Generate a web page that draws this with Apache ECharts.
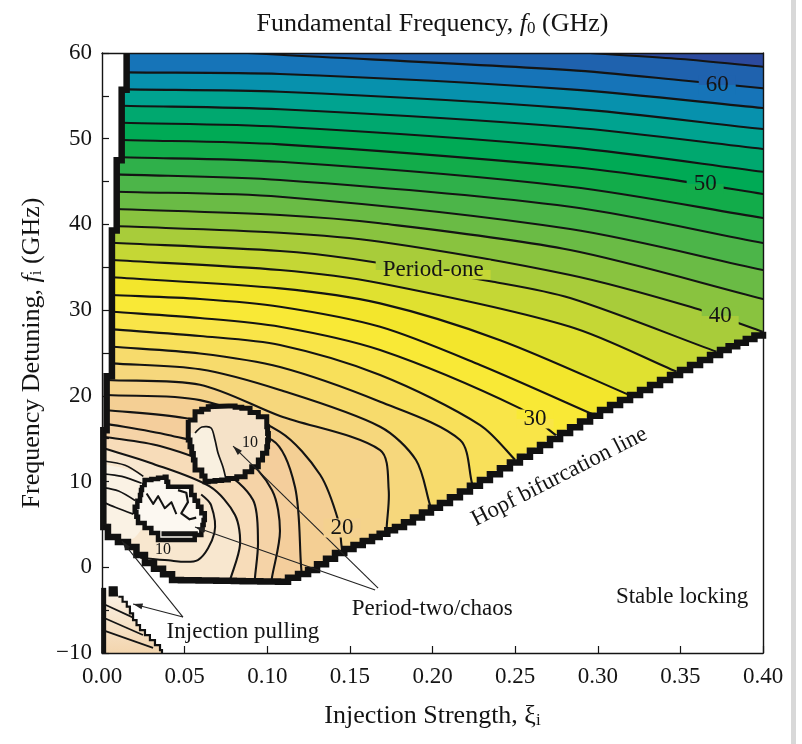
<!DOCTYPE html>
<html><head><meta charset="utf-8">
<script src="https://cdn.jsdelivr.net/npm/echarts@6/dist/echarts.min.js"></script>
<style>html,body{margin:0;padding:0;background:#fff}#c{width:802px;height:744px}</style>
</head><body><div id="c"></div>
<script>
// ---------- data ----------
const levels = [12,14,16,18,20,22,24,26,28,30,32,34,36,38,40,42,44,46,48,50,52,54,56,58,60,62];
const bandColors = ['#f7dcb9','#f5d3a7','#f4ce9c','#f4cf94','#f5d38a','#f6d77c','#f7db6c','#f8e05a','#f9e548','#f9e936','#f3e62c','#e0e130','#c5d735','#a8cc3a','#89c33f','#6abb45','#4cb549','#2fb04a','#12ac4a','#00aa55','#00a86f','#00a390','#0791ad','#1674b8','#1f62ae','#2c4a9e'];
const baseColor = '#f8e7cf';

// contour lines of f0 (GHz): [xi, fi] points
const c12 = [[0.001,13.88],[0.029,12.2],[0.0654,9.4],[0.0805,6.1],[0.0835,2.6],[0.0775,-1.49]];
const c14 = [[0.001,15.23],[0.035,14.14],[0.0714,11.46],[0.0914,7.84],[0.0944,2.94],[0.0926,-1.14]];
const c16 = [[0.001,16.79],[0.04,15.43],[0.0835,13.1],[0.1029,9.0],[0.1077,4.22],[0.1029,-1.14]];
const c18 = [[0.002,18.35],[0.05,17.41],[0.103,14.84],[0.1168,9.36],[0.1205,0.03]];
const c20 = [[0.003,20.1],[0.0593,19.5],[0.1077,15.8],[0.132,10.8],[0.1429,5.51],[0.145,2.4]];
const c22 = [[0.003,21.85],[0.0593,21.3],[0.1077,17.65],[0.1683,13.68],[0.1735,9.0],[0.1723,4.73]];
const c24 = [[0.006,23.79],[0.0593,23.1],[0.1077,20.68],[0.1683,16.4],[0.19,12.51],[0.1985,7.26]];
const c26 = [[0.006,25.73],[0.0593,24.95],[0.1077,23.36],[0.1683,19.31],[0.2167,14.84],[0.224,9.71]];
const c28 = [[0.006,27.76],[0.0593,26.98],[0.1077,25.93],[0.1683,22.43],[0.2288,16.59],[0.2518,12.16]];
const c30 = [[0.006,29.81],[0.0593,29.08],[0.1077,28.06],[0.1683,25.34],[0.253,18.54],[0.273,15.66]];
const c32 = [[0.006,31.76],[0.0593,31.3],[0.1077,30.4],[0.1683,28.06],[0.2288,23.6],[0.3021,17.41]];
const c34 = [[0.006,33.83],[0.1077,32.54],[0.1683,30.79],[0.2409,26.5],[0.3232,19.75]];
const c36 = [[0.006,35.85],[0.1077,34.68],[0.1683,33.13],[0.2833,28.06],[0.3481,22.78]];
const c38 = [[0.006,37.86],[0.1077,36.9],[0.152,35.96],[0.2367,33.31],[0.2833,31.41],[0.3723,25.11]];
const c40 = [[0.007,39.81],[0.1077,39.03],[0.1683,37.98],[0.2833,34.1],[0.3565,30.36],[0.398,27.6]];
const c42 = [[0.009,41.8],[0.1077,41.1],[0.1683,40.13],[0.2833,37.01],[0.4,31.3]];
const c44 = [[0.009,43.81],[0.1077,43.23],[0.2833,39.46],[0.4,34.68]];
const c46 = [[0.009,45.84],[0.1077,45.18],[0.2833,42.06],[0.4,37.83]];
const c48 = [[0.012,47.83],[0.1077,47.31],[0.2833,44.4],[0.4,40.75]];
const c50 = [[0.012,49.85],[0.1077,49.34],[0.2833,46.73],[0.3438,45.26],[0.4,43.55]];
const c52 = [[0.012,51.86],[0.1077,51.4],[0.2833,48.99],[0.4,46.15]];
const c54 = [[0.012,53.85],[0.1077,53.43],[0.2833,51.33],[0.4,48.8]];
const c56 = [[0.0151,55.76],[0.1077,55.48],[0.2833,53.54],[0.4,51.13]];
const c58 = [[0.0151,57.74],[0.1077,57.55],[0.2833,55.76],[0.4,53.58]];
const c60 = [[0.08,60.1],[0.1077,59.8],[0.2833,58.0],[0.3535,56.77],[0.4,55.88]];
const c62 = [[0.27,60.4],[0.2954,60.0],[0.35,59.3],[0.4,58.4]];
const contourArcs = [c12,c14,c16,c18,c20,c22,c24,c26,c28,c30,c32,c34,c36,c38,c40,c42,c44,c46,c48,c50,c52,c54,c56,c58,c60,c62];

// short contour pieces near the lower period-two island
const lineA = [[0.0008,12.4],[0.014,11.9],[0.025,10.6]];
const lineB = [[0.0008,10.9],[0.012,10.6],[0.024,9.8]];
const lineC = [[0.0008,9.3],[0.01,8.9],[0.02,7.8]];
const lineD = [[0.0008,7.6],[0.008,7.0],[0.019,6.2]];
const ring10 = [[0.02,1.2],[0.038,0.84],[0.058,0.84],[0.068,4.0],[0.066,7.26],[0.06,8.5]];
const lightB = [[0,11.8],[0.012,11.6],[0.022,10.9],[0.0258,10.18],[0.0242,9.6],[0.023,8.43],[0.0198,7.07],[0.0218,5.89],[0.0258,5.16],[0.02,3.5],[0.012,2.9],[0.0036,3.53],[0,4.7]];

// region boundaries
const leftEdge = [[0.0149,60],[0.0149,55.7],[0.0119,55.7],[0.0119,47.5],[0.0089,47.5],[0.0089,39.3],[0.006,39.3],[0.006,22.3],[0.0028,22.3],[0.0028,16.0],[0.0008,16.0],[0.0008,4.7]];
const hopfEdge = [[0.0036,3.53],[0.0157,2.36],[0.026,0.5],[0.0424,-1.49],[0.1065,-1.68],[0.1247,-0.32],[0.141,1.66],[0.1634,3.53],[0.1773,4.7],[0.2045,7.5],[0.2287,10.18],[0.2529,12.9],[0.2772,15.66],[0.3014,18.35],[0.3256,20.68],[0.3498,23.01],[0.374,25.35],[0.4,27.48]];

// period-two / chaos islands
const islandA = [[0.0522,17.18],[0.0563,18.15],[0.0643,18.73],[0.0765,18.81],[0.0846,18.54],[0.0946,17.56],[0.0997,16.4],[0.1007,14.84],[0.0997,13.29],[0.0946,11.73],[0.0866,10.56],[0.0765,10.18],[0.0643,9.98],[0.0604,11.34],[0.0563,12.51],[0.0543,14.06],[0.0522,15.62]];
const innerA = [[0.0563,15.66],[0.0605,16.36],[0.066,16.25],[0.0684,14.84],[0.0702,13.33],[0.0732,11.69],[0.075,10.29]];
const innerALight = [[0.0563,15.66],[0.0605,16.36],[0.066,16.25],[0.0684,14.84],[0.0702,13.33],[0.0732,11.69],[0.075,10.29],[0.0643,9.98],[0.0604,11.34],[0.0563,12.51],[0.0543,14.06],[0.0522,15.62]];
const islandB = [[0.0242,9.6],[0.0258,10.18],[0.038,10.56],[0.04,9.4],[0.05,9.4],[0.054,8.43],[0.0581,7.07],[0.0622,5.51],[0.0601,3.76],[0.0561,3.18],[0.0359,3.18],[0.0339,4.0],[0.0258,5.16],[0.0218,5.89],[0.0198,7.07],[0.023,8.43]];
const scribble1 = [[0.027,8.6],[0.031,7.4],[0.034,8.3],[0.038,6.9],[0.042,7.6],[0.045,6.2]];
const scribble2 = [[0.046,9.0],[0.051,8.7],[0.052,7.6],[0.048,6.3],[0.053,5.6],[0.057,5.8]];
const bottomBarB = [[0.036,3.9],[0.058,3.9]];

// injection pulling region
const injRegion = [[0,-2.6],[0.0024,-2.66],[0.0059,-2.27],[0.0097,-2.66],[0.0099,-3.44],[0.015,-4.6],[0.0188,-6.16],[0.023,-7.33],[0.029,-8.5],[0.0351,-9.66],[0.0363,-10],[0,-10]];
const injEdge = [[0.0099,-3.44],[0.015,-4.6],[0.0188,-6.16],[0.023,-7.33],[0.029,-8.5],[0.0351,-9.66],[0.0363,-10]];
const injLine1 = [[0,-4.2],[0.0192,-5.9]];
const injLine2 = [[0,-5.8],[0.0248,-7.9]];
const injLine3 = [[0,-7.3],[0.0309,-9.4]];
const injBlob = [[0.004,-2.2],[0.0095,-2.2],[0.0097,-3.4],[0.004,-3.4]];
const injLeft = [[0.001,-2.4],[0.001,-10]];

// pointer arrows [from, to]
const ptrA = [[0.1671,-2.42],[0.0793,14.14]];
const ptrB = [[0.1653,-2.66],[0.0563,4.69]];
const ptrC = [[0.049,-5.81],[0.0188,-4.29]];
const ptrD = [[0.049,-5.81],[0.0121,3.06]];

// text annotations
const noteText = ['Hopf bifurcation line','Stable locking','Period-two/chaos','Injection pulling'];
const notePos = [[0.2768,10.56],[0.351,-3.47],[0.1998,-4.87],[0.0853,-7.56]];
const noteRotate = [27,0,0,0];
// labels that sit in a gap of a contour line: text, position, colour above, colour below
const gapText = ['Period-one','60','50','40','30','20'];
const gapPos = [[0.2004,34.68],[0.3723,56.26],[0.365,44.71],[0.3741,29.31],[0.2621,17.29],[0.1453,4.58]];
const gapAbove = ['#a8cc3a','#1f62ae','#00aa55','#89c33f','#f9e936','#f4d18f'];
const gapBelow = ['#c5d735','#1674b8','#12ac4a','#a8cc3a','#f9e548','#f4d18f'];
const smallText = ['10','10'];
const smallPos = [[0.0896,14.49],[0.0369,2.01]];

// ---------- rendering ----------
const FONT = '"Liberation Serif","Times New Roman",serif';
const INK = '#141414';
const SM = 0.3;
const chart = echarts.init(document.getElementById('c'));
const mctx = document.createElement('canvas').getContext('2d');
function textWidth(t, size) { mctx.font = size + 'px "Liberation Serif"'; return mctx.measureText(t).width; }

function ext(arc) {
  const n = arc.length, a0 = arc[0], a1 = arc[1], z0 = arc[n-1], z1 = arc[n-2];
  const s = [a0[0] + (a0[0]-a1[0])*0.4, a0[1] + (a0[1]-a1[1])*0.4];
  const e = [z0[0] + (z0[0]-z1[0])*0.4, z0[1] + (z0[1]-z1[1])*0.4];
  return [s].concat(arc, [e]);
}
function stairs(P, step) {
  const out = [P[0]];
  for (let i = 1; i < P.length; i++) {
    const a = P[i-1], b = P[i];
    const dx = b[0]-a[0], dy = b[1]-a[1];
    if (Math.abs(dx) < 1.5 || Math.abs(dy) < 1.5) { out.push(b); continue; }
    const n = Math.max(1, Math.round(Math.max(Math.abs(dx), Math.abs(dy)) / step));
    for (let k = 1; k <= n; k++) {
      const x = a[0] + dx*k/n, y = a[1] + dy*k/n, py = a[1] + dy*(k-1)/n;
      out.push([x, py]); out.push([x, y]);
    }
  }
  return out;
}
const series = [];
let zc = 2;
function add(pts, build, clip) {
  series.push({
    type: 'custom', coordinateSystem: 'cartesian2d', silent: true,
    clip: clip !== false, z: zc++,
    data: pts.map(p => [p[0], p[1]]), encode: {x: 0, y: 1},
    renderItem: function (params, api) {
      if (params.dataIndex !== 0) return;
      const P = pts.map(p => api.coord(p));
      return build(P);
    }
  });
}
// one element per data point
function addEach(pts, build, z) {
  series.push({
    type: 'custom', coordinateSystem: 'cartesian2d', silent: true, clip: false, z: z,
    data: pts.map(p => [p[0], p[1]]), encode: {x: 0, y: 1},
    renderItem: function (params, api) {
      const p = api.coord([api.value(0), api.value(1)]);
      return build(p, params.dataIndex);
    }
  });
}
const poly = (fill, smooth) => P => ({type: 'polygon', shape: {points: P, smooth: smooth || 0}, style: {fill: fill}});
const line = (w, smooth, color) => P => ({type: 'polyline', shape: {points: P, smooth: smooth || 0}, style: {stroke: color || INK, lineWidth: w, fill: null, lineJoin: 'round'}});
const FAR = [[0.6,-30],[0.6,90],[-0.2,90]];

// background (values below the lowest contour)
add([[-0.2,-30]].concat(FAR), poly(baseColor));
// filled bands
contourArcs.forEach((arc, i) => add(ext(arc).concat(FAR), poly(bandColors[i], SM)));
add(lightB, poly('#faf2e4', 0.2));
// contour lines
contourArcs.forEach(arc => add(ext(arc), line(2.1, SM)));
[lineA, lineB, lineC, lineD].forEach(l => add(l, line(1.7, SM)));
add(ring10, line(2, SM));
// white masks: left strip + stable locking region
add([[-0.05,61],[0.0149,61]].concat(leftEdge, hopfEdge, [[0.45,27.48],[0.45,-12],[-0.05,-12]]), poly('#ffffff'));
// thick boundary (left edge + Hopf bifurcation line)
add(leftEdge.concat(hopfEdge), P => ({type: 'polyline', shape: {points: stairs(P, 9)}, style: {stroke: '#111', lineWidth: 6.5, fill: null, lineJoin: 'miter'}}), false);
// island A
add(islandA, P => ({type: 'polygon', shape: {points: stairs(P.concat([P[0]]), 7)}, style: {fill: '#f5e2c8'}}), false);
add(innerALight, poly('#f9f0e0', 0.2), false);
add(innerA, line(1.7, 0.3), false);
add(islandA, P => ({type: 'polyline', shape: {points: stairs(P.concat([P[0]]), 7)}, style: {stroke: '#111', lineWidth: 5, fill: null, lineJoin: 'miter'}}), false);
// island B
add(islandB, P => ({type: 'polygon', shape: {points: stairs(P.concat([P[0]]), 6)}, style: {fill: '#fcf8f1'}}), false);
add(scribble1, line(2, 0), false);
add(scribble2, line(2.2, 0), false);
add(bottomBarB, line(5, 0), false);
add(islandB, P => ({type: 'polyline', shape: {points: stairs(P.concat([P[0]]), 6)}, style: {stroke: '#111', lineWidth: 4.5, fill: null, lineJoin: 'miter'}}), false);
// injection pulling region
add(injRegion, P => ({type: 'polygon', shape: {points: stairs(P, 6)}, style: {fill: new echarts.graphic.LinearGradient(0, 0, 0, 1, [{offset: 0, color: '#fbf4ea'}, {offset: 1, color: '#f3d5ae'}])}}), false);
[injLine1, injLine2, injLine3].forEach(l => add(l, line(1.7, 0), false));
add(injEdge, P => ({type: 'polyline', shape: {points: stairs(P, 6)}, style: {stroke: '#111', lineWidth: 2.2, fill: null}}), false);
add(injLeft, line(5, 0, '#111'), false);
add(injBlob, poly('#111'), false);
// pointer arrows
function arrow(P) {
  const a = P[0], b = P[1];
  const ang = Math.atan2(b[1]-a[1], b[0]-a[0]);
  const L = 10, w = 0.3;
  const h1 = [b[0] - L*Math.cos(ang - w), b[1] - L*Math.sin(ang - w)];
  const h2 = [b[0] - L*Math.cos(ang + w), b[1] - L*Math.sin(ang + w)];
  return {type: 'group', children: [
    {type: 'polyline', shape: {points: [a, b]}, style: {stroke: '#222', lineWidth: 1.1, fill: null}},
    {type: 'polygon', shape: {points: [b, h1, h2]}, style: {fill: '#222'}}
  ]};
}
[ptrA, ptrB, ptrC, ptrD].forEach(p => add(p, arrow, false));

// text labels, placed through the axes
const textStyle = (t, size) => ({text: t, fill: INK, font: size + 'px ' + FONT, align: 'center', verticalAlign: 'middle'});
addEach(gapPos, (p, i) => {
  const w = textWidth(gapText[i], 23) + 14, h = 19;
  return {type: 'group', x: p[0], y: p[1], children: [
    {type: 'rect', shape: {x: -w/2, y: -h/2, width: w, height: h/2}, style: {fill: gapAbove[i]}},
    {type: 'rect', shape: {x: -w/2, y: 0, width: w, height: h/2}, style: {fill: gapBelow[i]}},
    {type: 'text', x: 0, y: 0, style: textStyle(gapText[i], 23)}
  ]};
}, 120);
addEach(notePos, (p, i) => ({type: 'text', x: p[0], y: p[1], rotation: noteRotate[i] * Math.PI / 180, style: textStyle(noteText[i], 23)}), 121);
addEach(smallPos, (p, i) => ({type: 'text', x: p[0], y: p[1], style: textStyle(smallText[i], 16)}), 122);

const rich = {
  i: {fontFamily: FONT, fontSize: 26, fontStyle: 'italic', color: INK},
  g: {fontFamily: FONT, fontSize: 26, color: INK},
  s: {fontFamily: FONT, fontSize: 17, color: INK, verticalAlign: 'bottom', lineHeight: 12}
};
const nameStyle = {fontFamily: FONT, fontSize: 26, color: INK, rich: rich};
const axisLineStyle = {show: true, onZero: false, lineStyle: {color: INK, width: 1.4}};

chart.setOption({
  animation: false,
  backgroundColor: '#ffffff',
  grid: {left: 102, top: 53, right: 39, bottom: 91, containLabel: false},
  xAxis: [{
    type: 'value', min: 0, max: 0.4, interval: 0.05, position: 'bottom', z: 100,
    axisLine: axisLineStyle,
    axisTick: {show: true, inside: true, length: 7, lineStyle: {color: INK, width: 1.2}},
    axisLabel: {formatter: v => v.toFixed(2), fontFamily: FONT, fontSize: 23, color: INK, margin: 12},
    splitLine: {show: false},
    name: 'Injection Strength, {g|ξ}{s|i}', nameLocation: 'middle', nameGap: 50, nameTextStyle: nameStyle
  }, {
    type: 'value', min: 0, max: 0.4, position: 'top', z: 100,
    axisLine: axisLineStyle, axisTick: {show: false}, axisLabel: {show: false}, splitLine: {show: false},
    name: 'Fundamental Frequency, {i|f}{s|0} (GHz)', nameLocation: 'middle', nameGap: 16, nameTextStyle: nameStyle
  }],
  yAxis: [{
    type: 'value', min: -10, max: 60, interval: 5, position: 'left', z: 100,
    axisLine: axisLineStyle,
    axisTick: {show: true, inside: true, length: 7, lineStyle: {color: INK, width: 1.2}},
    axisLabel: {formatter: v => (v % 10 === 0 ? (v < 0 ? '\u2212' + Math.abs(v) : String(v)) : ''), fontFamily: FONT, fontSize: 23, color: INK, margin: 10},
    splitLine: {show: false},
    name: 'Frequency Detuning, {i|f}{s|i} (GHz)', nameLocation: 'middle', nameGap: 48, nameRotate: 90, nameTextStyle: nameStyle
  }, {
    type: 'value', min: -10, max: 60, position: 'right', z: 100,
    axisLine: axisLineStyle, axisTick: {show: false}, axisLabel: {show: false}, splitLine: {show: false}
  }],
  graphic: [{type: 'rect', silent: true, shape: {x: 791, y: 0, width: 5, height: 744}, style: {fill: '#d8d8d8'}}],
  series: series
});
</script></body></html>
